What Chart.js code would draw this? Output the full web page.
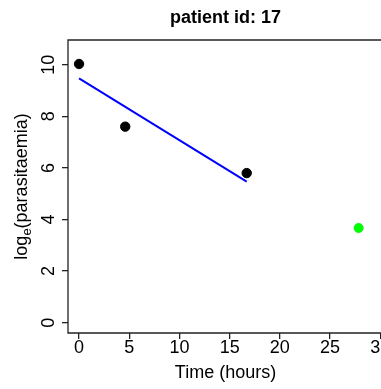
<!DOCTYPE html>
<html>
<head>
<meta charset="utf-8">
<script src="https://cdn.jsdelivr.net/npm/chart.js"></script>
<style>
  html, body { margin: 0; padding: 0; background: #fff; overflow: hidden; }
  #wrap { position: absolute; left: 0; top: 0; width: 440px; height: 389px; }
</style>
</head>
<body>
<div id="wrap"><canvas id="c"></canvas></div>
<script>
// patient 17 - log parasitaemia over time, with fitted clearance line

const obsTime = [0, 4.6, 16.7]
const obsLogPara = [10.03, 7.6, 5.8]
const lastTime = [27.85]
const lastLogPara = [3.67]
const fitTime = [0, 16.7]
const fitLogPara = [9.47, 5.47]
const xTicks = [0, 5, 10, 15, 20, 25, 30]
const yTicks = [0, 2, 4, 6, 8, 10]

const FONT = "'Liberation Sans', Arial, Helvetica, sans-serif"
const toPts = (xs, ys) => xs.map((x, i) => ({ x, y: ys[i] }))

// plot region is wider than the window, like the cropped R figure;
// titles are centred on the visible plot width (left edge .. 383px)
const PLOT_RIGHT = 383

const boxPlugin = {
  id: 'box',
  afterDraw(chart) {
    const { ctx, chartArea: a } = chart
    ctx.save()
    ctx.strokeStyle = '#222'
    ctx.lineWidth = 1.3
    ctx.beginPath()
    ctx.moveTo(a.right, a.top)
    ctx.lineTo(a.left, a.top)
    ctx.lineTo(a.left, a.bottom)
    ctx.lineTo(a.right, a.bottom)
    ctx.stroke()
    ctx.restore()
  }
}

const textPlugin = {
  id: 'texts',
  afterDraw(chart) {
    const { ctx, chartArea: a } = chart
    const y = chart.scales.y
    const cx = (a.left + PLOT_RIGHT) / 2
    ctx.save()
    ctx.fillStyle = '#000'
    ctx.textBaseline = 'alphabetic'
    ctx.textAlign = 'center'

    ctx.font = 'bold 18px ' + FONT
    ctx.fillText('patient id: 17', cx, 23)

    ctx.font = '18px ' + FONT
    ctx.fillText('Time (hours)', cx, 377.5)

    yTicks.forEach(v => {
      ctx.save()
      ctx.translate(53.5, y.getPixelForValue(v))
      ctx.rotate(-Math.PI / 2)
      ctx.fillText(String(v), 0, 0)
      ctx.restore()
    })

    const parts = [
      { t: 'log', font: '18px ' + FONT, dy: 0 },
      { t: 'e', font: '13px ' + FONT, dy: 4 },
      { t: '(parasitaemia)', font: '18px ' + FONT, dy: 0 }
    ]
    let total = 0
    parts.forEach(p => { ctx.font = p.font; p.w = ctx.measureText(p.t).width; total += p.w })
    ctx.translate(27, (a.top + a.bottom) / 2)
    ctx.rotate(-Math.PI / 2)
    ctx.textAlign = 'left'
    let x = -total / 2
    parts.forEach(p => {
      ctx.font = p.font
      ctx.fillText(p.t, x, p.dy)
      x += p.w
    })
    ctx.restore()
  }
}

new Chart(document.getElementById('c'), {
  type: 'scatter',
  data: {
    datasets: [
      {
        type: 'line',
        data: toPts(fitTime, fitLogPara),
        borderColor: '#0000ff',
        borderWidth: 2,
        pointRadius: 0,
        fill: false
      },
      {
        data: toPts(obsTime, obsLogPara),
        backgroundColor: '#000',
        borderColor: '#000',
        pointRadius: 4.7
      },
      {
        data: toPts(lastTime, lastLogPara),
        backgroundColor: '#00ff00',
        borderColor: '#00e000',
        borderWidth: 0.5,
        pointRadius: 4.7
      }
    ]
  },
  options: {
    responsive: true,
    maintainAspectRatio: false,
    animation: false,
    layout: { padding: { top: 40, right: 20 } },
    plugins: {
      legend: { display: false },
      tooltip: { enabled: false },
      title: { display: false }
    },
    scales: {
      x: {
        type: 'linear',
        min: -1.1,
        max: 33.96,
        afterBuildTicks: s => { s.ticks = xTicks.map(v => ({ value: v })) },
        afterFit: s => { s.height = 56; s.paddingLeft = 0; s.paddingRight = 0 },
        grid: { drawOnChartArea: false, drawTicks: true, tickLength: 6, color: '#222', lineWidth: 1.3 },
        border: { display: false },
        ticks: { color: '#000', padding: 0, maxRotation: 0, font: { family: FONT, size: 18, lineHeight: 1 } }
      },
      y: {
        type: 'linear',
        min: -0.4,
        max: 10.96,
        afterBuildTicks: s => { s.ticks = yTicks.map(v => ({ value: v })) },
        afterFit: s => { s.width = 68 },
        grid: { drawOnChartArea: false, drawTicks: true, tickLength: 6, color: '#222', lineWidth: 1.3 },
        border: { display: false },
        ticks: { display: false }
      }
    }
  },
  plugins: [boxPlugin, textPlugin]
})
</script>
</body>
</html>
